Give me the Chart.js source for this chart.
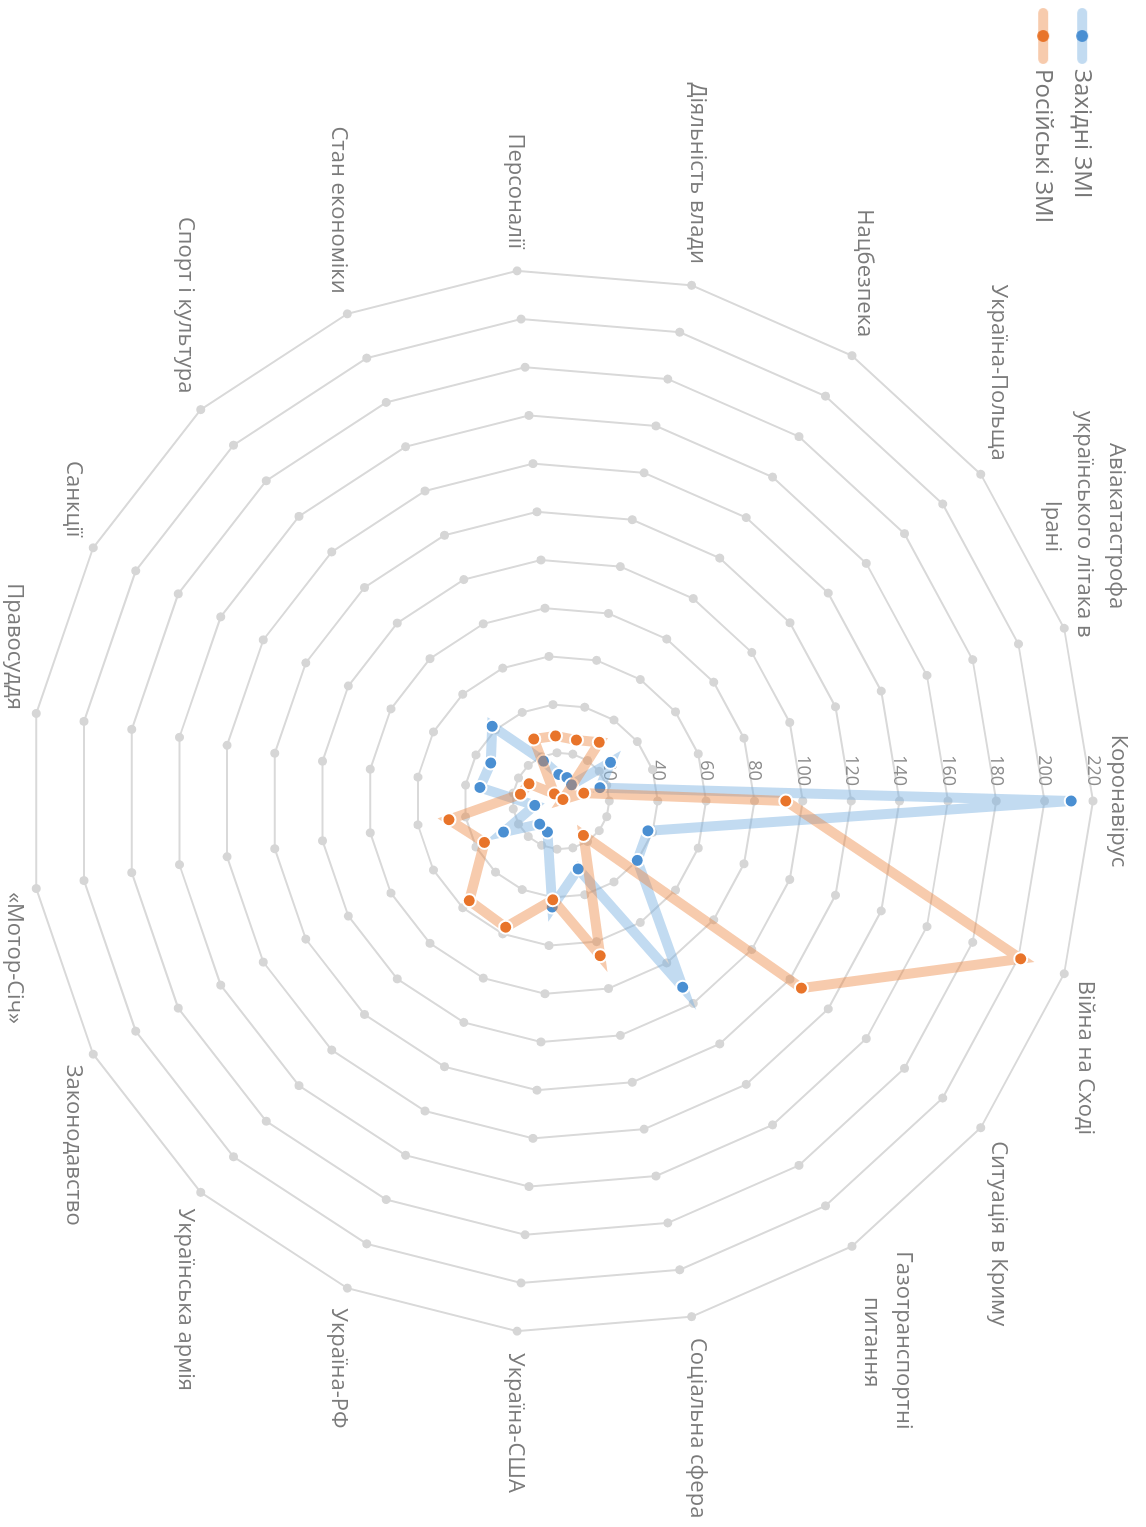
<!DOCTYPE html>
<html>
<head>
<meta charset="utf-8">
<title>Західні та російські ЗМІ</title>
<style>
  html, body { margin: 0; padding: 0; background: #fff; overflow: hidden; }
  /* the chart is laid out landscape and turned a quarter clockwise */
  #wrap {
    position: absolute; left: 0; top: 0;
    width: 1527px; height: 1146px;
    transform-origin: 0 0;
    transform: translate(1146px, 0) rotate(90deg);
  }
</style>
<script src="https://cdn.jsdelivr.net/npm/chart.js"></script>
</head>
<body>
<div id="wrap"><canvas id="radar" width="1527" height="1146"></canvas></div>
<script>
const topics = [
  'Коронавірус', 'Війна на Сході', 'Ситуація в Криму', ['Газотранспортні', 'питання'],
  'Соціальна сфера', 'Україна-США', 'Україна-РФ', 'Українська армія', 'Законодавство',
  '«Мотор-Січ»', 'Правосуддя', 'Санкції', 'Спорт і культура', 'Стан економіки',
  'Персоналії', 'Діяльність влади', 'Нацбезпека', 'Україна-Польща',
  ['Авіакатастрофа', 'українського літака в', 'Ірані']
];
const westernMedia = [211, 38, 40, 92, 29, 44, 14, 13, 27, 11, 34, 33, 42, 18, 11, 10, 8, 26, 17];
const russianMedia = [93, 201, 126, 17, 66, 41, 57, 56, 36, 47, 17, 15, 4, 28, 27, 26, 29, 1, 10];
const seriesNames = ['Західні ЗМІ', 'Російські ЗМІ'];
const tickValues = [20, 40, 60, 80, 100, 120, 140, 160, 180, 200, 220];

const FONT = 'Open Sans';
const blue = '#4a8fd2', blueLine = 'rgba(120, 175, 225, 0.45)';
const orange = '#e8742a', orangeLine = 'rgba(235, 130, 60, 0.42)';
const NB = '\u00a0';

// center the lines of a multi-line label inside its block
const measure = document.createElement('canvas').getContext('2d');
measure.font = `22px "${FONT}"`;
const nbW = measure.measureText(NB).width;
const n = topics.length;
const labels = topics.map((t, i) => {
  if (!Array.isArray(t)) return t;
  const deg = i * 360 / n;
  const widths = t.map(s => measure.measureText(s).width);
  const maxW = Math.max(...widths);
  return t.map((s, k) => {
    const pad = NB.repeat(Math.round((maxW - widths[k]) / 2 / nbW));
    return deg < 180 ? pad + s : s + pad;
  });
});
const lineCount = i => Array.isArray(topics[i]) ? topics[i].length : 1;

function legendIcon(line, dot) {
  const c = document.createElement('canvas');
  c.width = 56; c.height = 14;
  const g = c.getContext('2d');
  g.strokeStyle = line; g.lineWidth = 10; g.lineCap = 'round';
  g.beginPath(); g.moveTo(5, 7); g.lineTo(51, 7); g.stroke();
  g.fillStyle = dot;
  g.beginPath(); g.arc(28, 7, 6, 0, Math.PI * 2); g.fill();
  return c;
}
const icons = [legendIcon(blueLine, blue), legendIcon(orangeLine, orange)];

// small grey dots on every corner of the web
const gridDots = {
  id: 'gridDots',
  beforeDatasetsDraw(chart) {
    const scale = chart.scales.r;
    const ctx = chart.ctx;
    ctx.save();
    ctx.fillStyle = '#d6d6d6';
    scale.ticks.forEach(t => {
      if (t.value <= 0) return;
      for (let i = 0; i < chart.data.labels.length; i++) {
        const p = scale.getPointPositionForValue(i, t.value);
        ctx.beginPath();
        ctx.arc(p.x, p.y, 4.5, 0, Math.PI * 2);
        ctx.fill();
      }
    });
    ctx.restore();
  }
};

new Chart(document.getElementById('radar'), {
  type: 'radar',
  data: {
    labels: labels,
    datasets: [
      {
        label: seriesNames[0],
        data: westernMedia,
        order: 2,
        borderColor: blueLine,
        borderWidth: 10,
        pointBackgroundColor: blue,
        pointBorderColor: '#fff',
        pointBorderWidth: 2,
        pointRadius: 6.5,
        fill: false
      },
      {
        label: seriesNames[1],
        data: russianMedia,
        order: 1,
        borderColor: orangeLine,
        borderWidth: 10,
        pointBackgroundColor: orange,
        pointBorderColor: '#fff',
        pointBorderWidth: 2,
        pointRadius: 6.5,
        fill: false
      }
    ]
  },
  options: {
    responsive: false,
    animation: false,
    layout: { autoPadding: false, padding: { top: 1, bottom: 1, left: 0, right: -75 } },
    elements: { line: { tension: 0 } },
    scales: {
      r: {
        min: 0,
        max: 220,
        angleLines: { display: false },
        grid: { color: '#d9d9d9', lineWidth: 2 },
        ticks: {
          stepSize: 20,
          showLabelBackdrop: false,
          color: '#8c8c8c',
          font: { family: FONT, size: 18 },
          callback: v => tickValues.includes(v) ? v + NB.repeat(13) : ''
        },
        pointLabels: {
          color: '#7b7b7b',
          // single-line labels get a near-zero line box so they sit centred on their anchor
          font: ctx => ({ family: FONT, size: 22, lineHeight: lineCount(ctx.index) > 1 ? 1.45 : 0.01 }),
          padding: ctx => {
            const lines = lineCount(ctx.index);
            if (lines > 2) return -40;
            if (lines > 1) return -5;
            return ctx.index === 0 ? 14 : 11;
          }
        }
      }
    },
    plugins: {
      title: false,
      subtitle: false,
      tooltip: { enabled: false },
      legend: {
        position: 'chartArea',
        fullSize: false,
        align: 'start',
        title: { display: true, text: ' ', font: { size: 14 }, padding: { top: 12, bottom: 8 } },
        labels: {
          usePointStyle: true,
          pointStyleWidth: 42,
          padding: 15,
          color: '#777',
          font: { family: FONT, size: 24 },
          sort: (a, b) => a.datasetIndex - b.datasetIndex,
          generateLabels: chart => {
            const items = Chart.defaults.plugins.legend.labels.generateLabels(chart);
            items.forEach(it => { it.pointStyle = icons[it.datasetIndex]; });
            return items;
          }
        }
      }
    }
  },
  plugins: [gridDots]
});
</script>
</body>
</html>
